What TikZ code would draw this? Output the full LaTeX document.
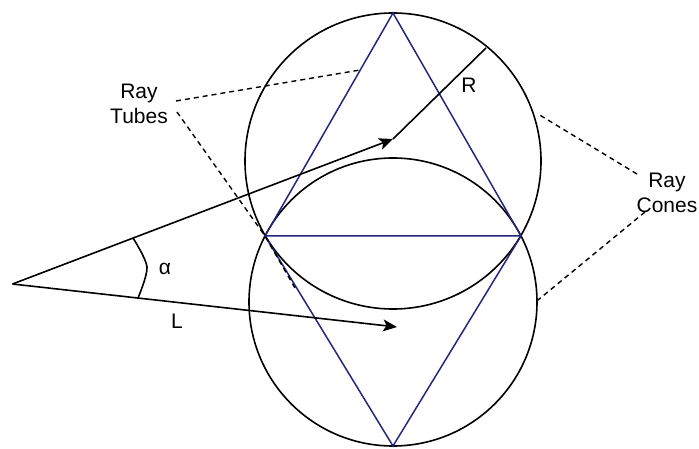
\documentclass[tikz,border=0pt]{standalone}
\usepackage{fontspec}
\setmainfont{Liberation Sans}
\usetikzlibrary{arrows.meta}
\definecolor{triblue}{RGB}{38,38,125}
\begin{document}
\begin{tikzpicture}[x=1pt,y=-1pt,
  line/.style={line width=1.6pt, draw=black},
  tri/.style={line width=1.5pt, draw=triblue},
  lead/.style={line width=1.4pt, draw=black, dash pattern=on 5pt off 4pt},
  lbl/.style={font=\fontsize{21}{25}\selectfont, align=center, inner sep=0pt},
  arr/.style={line, -{Stealth[length=14pt,width=12pt,inset=3.5pt]}}]
\useasboundingbox (0,0) rectangle (699,449);
% geometry
\coordinate (cu) at (393,161);
\coordinate (cl) at (393,302);
\coordinate (A) at (393,13);
\coordinate (B) at (265,236);
\coordinate (C) at (521,236);
\coordinate (D) at (393,446);
\coordinate (O) at (12.5,284);
\coordinate (T1) at (393,139);
\coordinate (T2) at (397,327);
\coordinate (Rend) at (486,48);
% circles
\draw[line] (cu) circle[radius=148pt];
\draw[line] (cl) circle[radius=144pt];
% triangles
\draw[tri] (A) -- (C) -- (B) -- cycle;
\draw[tri] (B) -- (D) -- (C);
% rays
\draw[arr] (O) -- (T1);
\draw[line] (T1) -- (Rend);
\draw[arr] (O) -- (T2);
% angle
\draw[line] plot[smooth] coordinates {(133,238) (147,267) (138,298)};
% labels
\node[lbl] (alpha) at (165,269) {α};
\node[lbl] (L) at (177,321) {L};
\node[lbl] (R) at (469,85) {R};
\node[lbl] (tubes) at (139,104) {Ray\\Tubes};
\node[lbl] (cones) at (667,193) {Ray\\Cones};
% leaders
\coordinate (ts1) at (176,101);
\coordinate (ts2) at (177,112);
\coordinate (t1) at (360,70);
\coordinate (t2) at (295,288);
\coordinate (cs1) at (637,174);
\coordinate (cs2) at (645,212);
\coordinate (c1) at (538,114);
\coordinate (c2) at (538,300);
\draw[lead] (ts1) -- (t1);
\draw[lead] (ts2) -- (B) -- (t2);
\draw[lead] (cs1) -- (c1);
\draw[lead] (cs2) -- (c2);
\end{tikzpicture}
\end{document}
